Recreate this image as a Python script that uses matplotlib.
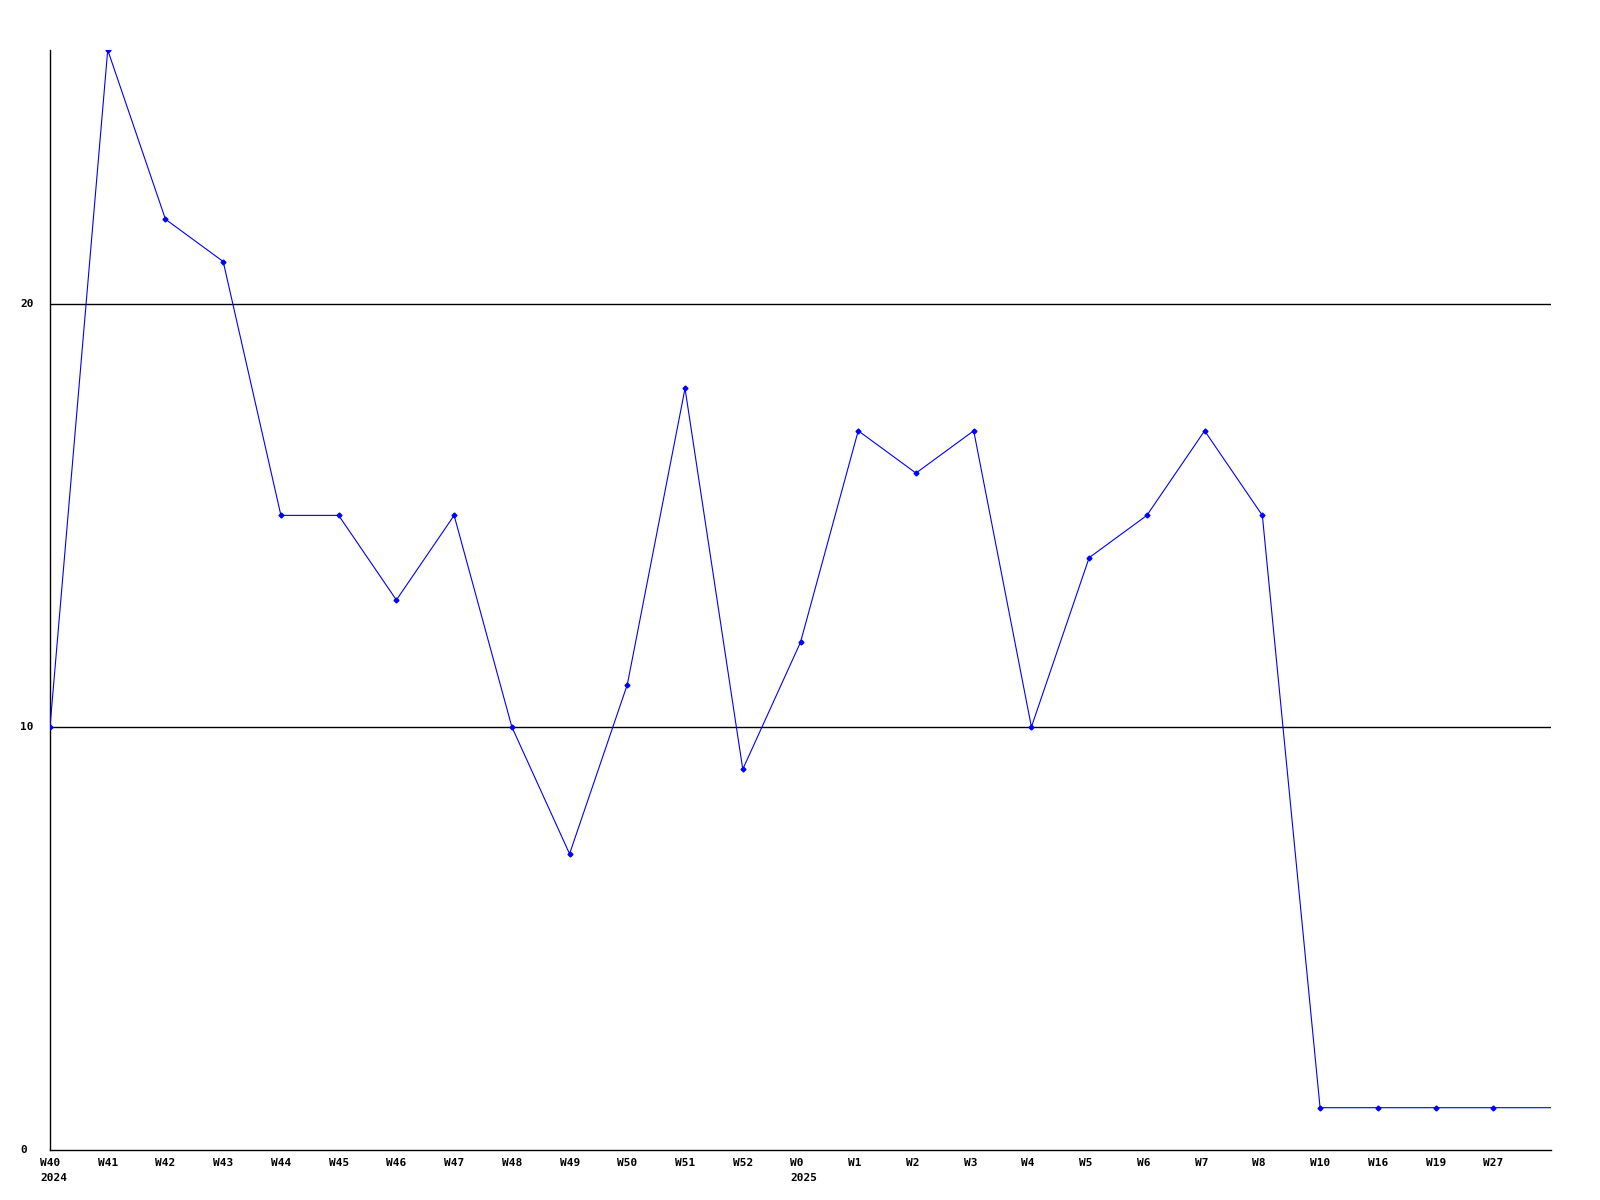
import matplotlib
matplotlib.use('Agg')
import matplotlib.pyplot as plt

# weekly counts
weeks = ['W40', 'W41', 'W42', 'W43', 'W44', 'W45', 'W46', 'W47', 'W48', 'W49',
         'W50', 'W51', 'W52', 'W0', 'W1', 'W2', 'W3', 'W4', 'W5', 'W6',
         'W7', 'W8', 'W10', 'W16', 'W19', 'W27']
counts = [10, 26, 22, 21, 15, 15, 13, 15, 10, 7,
          11, 18, 9, 12, 17, 16, 17, 10, 14, 15,
          17, 15, 1, 1, 1, 1]
years = {'W40': '2024', 'W0': '2025'}
y_ticks = [0, 10, 20]
y_max = 26

plt.rcParams['font.family'] = 'DejaVu Sans Mono'
plt.rcParams['font.weight'] = 'bold'

fig = plt.figure(figsize=(16, 12), dpi=100)
ax = fig.add_axes([50 / 1600, 1 - 1150 / 1200, 1501 / 1600, 1100 / 1200])

n = len(counts)
xs = list(range(n))
# the line runs on past the last point to the right edge
ax.plot(xs + [n], counts + [counts[-1]], color='#0000ff', lw=0.8, zorder=3)
ax.plot(xs, counts, ls='none', marker='D', ms=2.5, color='#0000ff', zorder=4)

ax.set_xlim(0, n)
ax.set_ylim(0, y_max)

for y in y_ticks[1:]:
    ax.axhline(y, color='black', lw=1, zorder=1)

for s in ['top', 'right']:
    ax.spines[s].set_visible(False)
for s in ['left', 'bottom']:
    ax.spines[s].set_color('black')
    ax.spines[s].set_linewidth(1)

ax.set_xticks([])
ax.set_yticks([])

fs = 8
for i, w in enumerate(weeks):
    ax.annotate(w, xy=(i, 0), xycoords=('data', 'axes fraction'),
                xytext=(-10, -8), textcoords='offset pixels',
                ha='left', va='top', fontsize=fs, fontweight='bold')
    if w in years:
        ax.annotate(years[w], xy=(i, 0), xycoords=('data', 'axes fraction'),
                    xytext=(-10, -23), textcoords='offset pixels',
                    ha='left', va='top', fontsize=fs, fontweight='bold')

for y in y_ticks:
    ax.annotate(str(y), xy=(0, y), xycoords=('axes fraction', 'data'),
                xytext=(-30, 0), textcoords='offset pixels',
                ha='left', va='center', fontsize=fs, fontweight='bold')

fig.savefig('out.png', dpi=100)
